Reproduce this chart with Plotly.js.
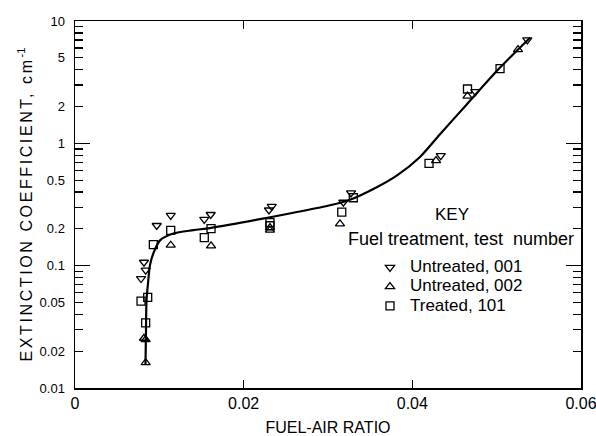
<!DOCTYPE html>
<html>
<head>
<meta charset="utf-8">
<script src="https://cdn.plot.ly/plotly-3.0.1.min.js"></script>
<style>html,body{margin:0;padding:0;background:#fff;}#chart{width:596px;height:436px;}</style>
</head>
<body>
<div id="chart"></div>
<script>
// Untreated, 001 (down triangles)
const untreated001X = [0.00818, 0.00838, 0.00783, 0.00969, 0.01135, 0.01533, 0.01609, 0.02333, 0.02300, 0.03182, 0.03273, 0.04337, 0.04747, 0.05363];
const untreated001Y = [0.1066, 0.0918, 0.0785, 0.213, 0.258, 0.239, 0.262, 0.305, 0.285, 0.330, 0.394, 0.794, 2.65, 7.0];
// Untreated, 002 (up triangles)
const untreated002X = [0.00818, 0.00838, 0.00838, 0.01135, 0.01613, 0.02312, 0.02312, 0.03142, 0.04281, 0.04654, 0.05253];
const untreated002Y = [0.0255, 0.0249, 0.0161, 0.147, 0.145, 0.205, 0.195, 0.220, 0.723, 2.43, 5.84];
// Treated, 101 (squares)
const treated101X = [0.00838, 0.00783, 0.00862, 0.00929, 0.01135, 0.01533, 0.01613, 0.02312, 0.02312, 0.03163, 0.0330, 0.04198, 0.04654, 0.0504];
const treated101Y = [0.0341, 0.0513, 0.0550, 0.1486, 0.1945, 0.1693, 0.2006, 0.225, 0.212, 0.274, 0.359, 0.687, 2.78, 4.085];
// Faired curve
const curveX = [0.00836, 0.00842, 0.00848, 0.00866, 0.00889, 0.00929, 0.01008, 0.01166, 0.01403, 0.01601, 0.02194, 0.03024, 0.03261, 0.03578, 0.03815, 0.04091, 0.04328, 0.04645, 0.0504, 0.05396];
const curveY = [0.0157, 0.030, 0.052, 0.072, 0.101, 0.126, 0.161, 0.183, 0.195, 0.203, 0.240, 0.312, 0.346, 0.438, 0.545, 0.774, 1.186, 2.08, 4.16, 7.3];

const seriesNames = ['Untreated, 001', 'Untreated, 002', 'Treated, 101'];
const yTickVals = [0.01, 0.02, 0.05, 0.1, 0.2, 0.5, 1, 2, 5, 10];
const yTickText = ['0.01', '0.02', '0.05', '0.1', '0.2', '0.5', '1', '2', '5', '10'];
const yMinorVals = [0.03, 0.04, 0.06, 0.07, 0.08, 0.09, 0.3, 0.4, 0.6, 0.7, 0.8, 0.9, 3, 4, 6, 7, 8, 9];
const yDecadeVals = [0.01, 0.1, 1, 10];
const xTickVals = [0, 0.02, 0.04, 0.06];
const xTickText = ['0', '0.02', '0.04', '0.06'];

const FONT = 'Liberation Sans, Arial, Helvetica, sans-serif';
const mk = (sym) => ({symbol: sym, size: 8, color: '#000', line: {color: '#000', width: 1.3}});
const legName = (s) => '<span style="font-size:17px">' + s + '</span>';

const traces = [
  {x: curveX, y: curveY, mode: 'lines', line: {color: '#000', width: 2.2, shape: 'spline', smoothing: 0.8}, showlegend: false, hoverinfo: 'skip'},
  {x: untreated001X, y: untreated001Y, mode: 'markers', name: legName(seriesNames[0]), marker: mk('triangle-down-open')},
  {x: untreated002X, y: untreated002Y, mode: 'markers', name: legName(seriesNames[1]), marker: mk('triangle-up-open')},
  {x: treated101X, y: treated101Y, mode: 'markers', name: legName(seriesNames[2]), marker: mk('square-open')},
  {x: [0.03], y: [1], yaxis: 'y2', mode: 'markers', marker: {opacity: 0}, showlegend: false, hoverinfo: 'skip'}
];

const layout = {
  width: 596, height: 436,
  margin: {l: 75, r: 15, t: 21, b: 48},
  paper_bgcolor: '#fff', plot_bgcolor: '#fff',
  font: {family: FONT, color: '#000', size: 14},
  showlegend: true,
  legend: {x: 0.583, y: 0.3687, xanchor: 'left', yanchor: 'top', bgcolor: 'rgba(0,0,0,0)',
           font: {family: FONT, size: 12.5, color: '#000'}, itemwidth: 30, tracegroupgap: 0},
  xaxis: {
    range: [0, 0.06], tickmode: 'array', tickvals: xTickVals, ticktext: xTickText,
    ticks: 'inside', ticklen: 8, tickwidth: 1.3, tickcolor: '#000',
    showline: true, linecolor: '#000', linewidth: 1.5, mirror: 'ticks',
    showgrid: false, zeroline: false, ticklabeloverflow: 'allow',
    tickfont: {family: FONT, size: 16, color: '#000'},
    title: {text: 'FUEL-AIR RATIO', font: {family: FONT, size: 16, color: '#000'}, standoff: 12}
  },
  yaxis: {
    type: 'log', range: [-2, 1], tickmode: 'array', tickvals: yTickVals, ticktext: yTickText,
    ticks: 'inside', ticklen: 8, tickwidth: 1.3, tickcolor: '#000',
    minor: {tickmode: 'array', tickvals: yMinorVals, ticks: 'inside', ticklen: 8, tickwidth: 1.3, tickcolor: '#000', showgrid: false},
    showline: true, linecolor: '#000', linewidth: 1.5, mirror: 'ticks',
    showgrid: false, zeroline: false, ticklabelstandoff: 6,
    tickfont: {family: FONT, size: 13, color: '#000'},
    title: {text: '<span style="letter-spacing:2.6px">EXTINCTION COEFFICIENT, cm</span><sup>-1</sup>', font: {family: FONT, size: 16, color: '#000'}, standoff: 3}
  },
  yaxis2: {
    type: 'log', range: [-2, 1], overlaying: 'y', side: 'left', tickmode: 'array', tickvals: yDecadeVals,
    ticks: 'inside', ticklen: 15, tickwidth: 1.3, tickcolor: '#000', showticklabels: false,
    showline: false, mirror: 'ticks', showgrid: false, zeroline: false
  },
  annotations: [
    {text: 'KEY', xref: 'paper', yref: 'paper', x: 0.7445, y: 0.4714, xanchor: 'center', yanchor: 'middle', showarrow: false, font: {family: FONT, size: 17, color: '#000'}},
    {text: 'Fuel treatment, test  number', xref: 'paper', yref: 'paper', x: 0.5356, y: 0.406, xanchor: 'left', yanchor: 'middle', showarrow: false, font: {family: FONT, size: 18, color: '#000'}}
  ]
};

Plotly.newPlot('chart', traces, layout, {staticPlot: true, displayModeBar: false});
</script>
</body>
</html>
